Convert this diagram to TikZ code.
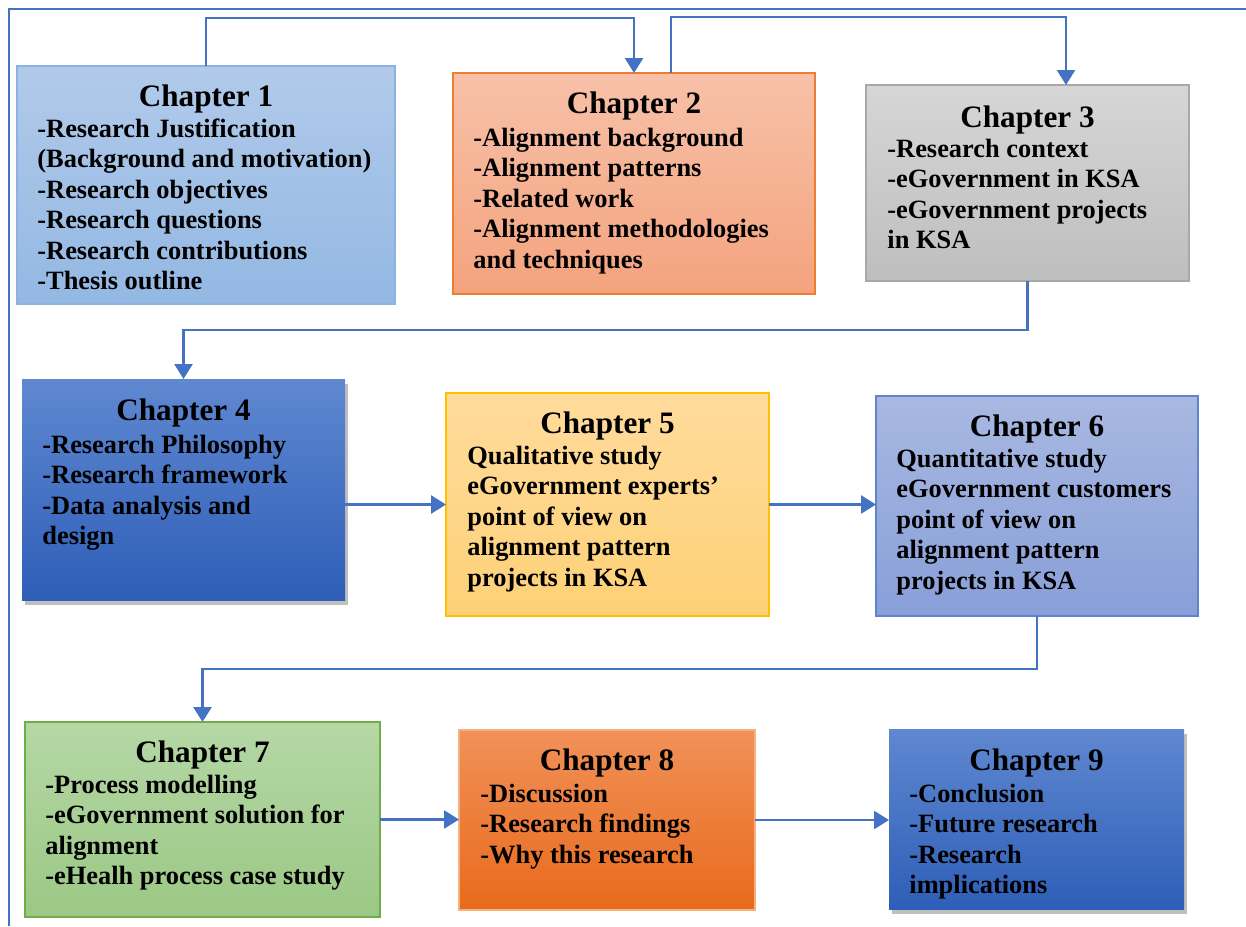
\documentclass[tikz,border=0pt]{standalone}
\usepackage{fontspec}
\setmainfont{Liberation Serif}
\usetikzlibrary{arrows.meta,shadows,calc}
\definecolor{lnblue}{HTML}{4472C4}
\definecolor{aTop}{HTML}{B1CAEA}\definecolor{aBot}{HTML}{93B8E3}\definecolor{aDr}{HTML}{8DB2E2}
\definecolor{bTop}{HTML}{F7C1A8}\definecolor{bBot}{HTML}{F4A37E}\definecolor{bDr}{HTML}{ED7D31}
\definecolor{cTop}{HTML}{D6D6D6}\definecolor{cBot}{HTML}{BEBEBE}\definecolor{cDr}{HTML}{A8A8A8}
\definecolor{dTop}{HTML}{5F88D0}\definecolor{dBot}{HTML}{2E5EB8}
\definecolor{eTop}{HTML}{FFDB9C}\definecolor{eBot}{HTML}{FED177}\definecolor{eDr}{HTML}{FFC000}
\definecolor{fTop}{HTML}{A8B8E1}\definecolor{fBot}{HTML}{889FD8}\definecolor{fDr}{HTML}{5E84CE}
\definecolor{gTop}{HTML}{B5D7A5}\definecolor{gBot}{HTML}{9BC885}\definecolor{gDr}{HTML}{70AD47}
\definecolor{hTop}{HTML}{F19159}\definecolor{hBot}{HTML}{E86A1B}\definecolor{hDr}{HTML}{F4B183}
\begin{document}
\begin{tikzpicture}[x=0.5pt,y=-0.5pt,
  chbox/.style={inner sep=0pt, outer sep=0pt, line width=0.6pt},
  shad/.style={drop shadow={shadow xshift=1.5pt, shadow yshift=-2.5pt, opacity=0.25, fill=black}},
  ttl/.style={inner sep=0pt, anchor=base, font=\bfseries\fontsize{15.6}{18}\selectfont},
  bdy/.style={inner sep=0pt, anchor=base west, align=left, font=\bfseries\fontsize{13.2}{15.25}\selectfont},
  conn/.style={draw=lnblue, line width=1.3pt, -{Triangle[width=9pt,length=7.5pt]}},
  frameline/.style={draw=lnblue, line width=1pt}
]
\useasboundingbox (0,0) rectangle (1246,926);
\draw[frameline] (9,926) -- (9,9) -- (1246,9);

% boxes
\node[chbox, draw=aDr, top color=aTop, bottom color=aBot, minimum width=189pt, minimum height=119pt] (c1) at (206,185) {};
\node[chbox, draw=bDr, top color=bTop, bottom color=bBot, minimum width=181pt, minimum height=110.5pt] (c2) at (634,183.5) {};
\node[chbox, draw=cDr, top color=cTop, bottom color=cBot, minimum width=161.5pt, minimum height=98pt] (c3) at (1027.5,183) {};
\node[chbox, shad, top color=dTop, bottom color=dBot, minimum width=161.5pt, minimum height=110.5pt] (c4) at (183.5,489.5) {};
\node[chbox, draw=eDr, top color=eTop, bottom color=eBot, minimum width=161.5pt, minimum height=111.5pt] (c5) at (607.5,504.5) {};
\node[chbox, draw=fDr, top color=fTop, bottom color=fBot, minimum width=161pt, minimum height=110pt] (c6) at (1037,506) {};
\node[chbox, draw=gDr, top color=gTop, bottom color=gBot, minimum width=177.5pt, minimum height=97.5pt] (c7) at (202.5,819.5) {};
\node[chbox, draw=hDr, top color=hTop, bottom color=hBot, minimum width=148pt, minimum height=90pt] (c8) at (607,820) {};
\node[chbox, shad, top color=dTop, bottom color=dBot, minimum width=147.5pt, minimum height=90pt] (c9) at (1036.5,819) {};

% texts (body nodes anchored at the baseline of their last line)
\node[ttl] (t1) at (206,106) {Chapter 1};
\node[bdy] (b1) at (37,289.5) {-Research Justification\\(Background and motivation)\\-Research objectives\\-Research questions\\-Research contributions\\-Thesis outline};
\node[ttl] (t2) at (634,113) {Chapter 2};
\node[bdy] (b2) at (473,268) {-Alignment background\\-Alignment patterns\\-Related work\\-Alignment methodologies\\and techniques};
\node[ttl] (t3) at (1027.5,127) {Chapter 3};
\node[bdy] (b3) at (887,248.5) {-Research context\\-eGovernment in KSA\\-eGovernment projects\\in KSA};
\node[ttl] (t4) at (183.5,420) {Chapter 4};
\node[bdy] (b4) at (42,544.5) {-Research Philosophy\\-Research framework\\-Data analysis and\\design};
\node[ttl] (t5) at (607.5,433) {Chapter 5};
\node[bdy] (b5) at (467,586) {Qualitative study\\eGovernment experts’\\point of view on\\alignment pattern\\projects in KSA};
\node[ttl] (t6) at (1037,436) {Chapter 6};
\node[bdy] (b6) at (896,589) {Quantitative study\\eGovernment customers\\point of view on\\alignment pattern\\projects in KSA};
\node[ttl] (t7) at (202.5,762) {Chapter 7};
\node[bdy] (b7) at (45,884.5) {-Process modelling\\-eGovernment solution for\\alignment\\-eHealh process case study};
\node[ttl] (t8) at (607,770) {Chapter 8};
\node[bdy] (b8) at (480,863) {-Discussion\\-Research findings\\-Why this research};
\node[ttl] (t9) at (1036.5,770) {Chapter 9};
\node[bdy] (b9) at (909,893.5) {-Conclusion\\-Future research\\-Research\\implications};

% connectors
\draw[conn] (c1.north) -- ++(0,-48) -| (c2.north);
\draw[conn] ($(c2.north)+(37,0)$) -- ++(0,-56) -| ($(c3.north)+(38.5,0)$);
\draw[conn] (c3.south) -- ++(0,49) -| (c4.north);
\draw[conn] (c4.east |- c5.west) -- (c5.west);
\draw[conn] (c5.east) -- (c6.west |- c5.east);
\draw[conn] (c6.south) -- ++(0,53) -| (c7.north);
\draw[conn] (c7.east) -- (c8.west |- c7.east);
\draw[conn] (c8.east) -- (c9.west |- c8.east);
\end{tikzpicture}
\end{document}
